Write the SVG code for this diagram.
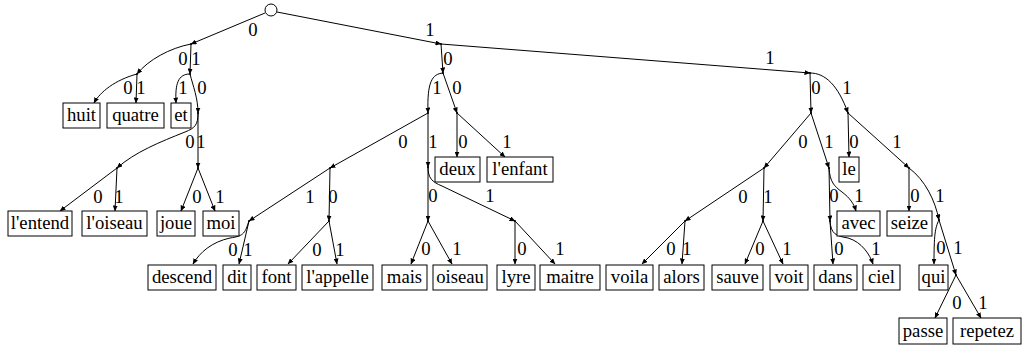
<svg xmlns="http://www.w3.org/2000/svg" width="1032" height="347" viewBox="0 0 1032 347">
<style>
.e{fill:none;stroke:#000;stroke-width:1;marker-end:url(#ah)}
.b{fill:#fff;stroke:#000;stroke-width:1}
.t{font-family:"Liberation Serif","Times New Roman",serif;font-size:18.7px;text-anchor:middle;fill:#000}
.p{fill:#000}
</style>
<defs>
<marker id="ah" markerUnits="userSpaceOnUse" markerWidth="6" markerHeight="5" refX="5.5" refY="2.5" orient="auto">
<path d="M0,0 L6,2.5 L0,5 z" fill="#000"/>
</marker>
</defs>
<rect width="1032" height="347" fill="#fff"/>
<g id="edges">
<path class="e" d="M265,13 L191,44"/>
<path class="e" d="M277,12 L441,44"/>
<path class="e" d="M191,44 C170,48 148,60 137,74"/>
<path class="e" d="M191,44 L190,74"/>
<path class="e" d="M137,74 C115,80 100,92 94,103"/>
<path class="e" d="M137,74 L136,103"/>
<path class="e" d="M190,74 C178,74 175,84 176,103"/>
<path class="e" d="M190,74 C193,86 198,98 198,113"/>
<path class="e" d="M198,113 C198,125 195,128 185,132 C160,142 135,152 117,168"/>
<path class="e" d="M198,113 L198,168"/>
<path class="e" d="M117,168 L60,211"/>
<path class="e" d="M117,168 L115,211"/>
<path class="e" d="M198,168 L181,211"/>
<path class="e" d="M198,168 L215,211"/>
<path class="e" d="M441,44 L443,73"/>
<path class="e" d="M441,44 L810,73"/>
<path class="e" d="M443,73 C432,74 427,82 428,113"/>
<path class="e" d="M443,73 L457,113"/>
<path class="e" d="M457,113 L457,157"/>
<path class="e" d="M457,113 L505,157"/>
<path class="e" d="M428,113 L330,168"/>
<path class="e" d="M428,113 L428,167"/>
<path class="e" d="M330,168 L249,221"/>
<path class="e" d="M330,168 L329,221"/>
<path class="e" d="M428,167 L428,221"/>
<path class="e" d="M428,167 C428,178 432,182 442,186 L515,221"/>
<path class="e" d="M249,221 C245,232 245,236 230,238 C212,242 200,252 193,264"/>
<path class="e" d="M249,221 L239,264"/>
<path class="e" d="M329,221 L288,264"/>
<path class="e" d="M329,221 L337,264"/>
<path class="e" d="M428,221 L411,264"/>
<path class="e" d="M428,221 L452,264"/>
<path class="e" d="M515,221 L515,264"/>
<path class="e" d="M515,221 L555,264"/>
<path class="e" d="M810,73 L811,113"/>
<path class="e" d="M810,73 C825,73 838,85 848,113"/>
<path class="e" d="M811,113 L764,168"/>
<path class="e" d="M811,113 L829,168"/>
<path class="e" d="M848,113 L849,157"/>
<path class="e" d="M848,113 L909,168"/>
<path class="e" d="M829,168 L830,221"/>
<path class="e" d="M829,168 C830,182 834,186 842,192 C850,198 854,204 856,211"/>
<path class="e" d="M909,168 L909,211"/>
<path class="e" d="M909,168 C925,180 935,200 939,220"/>
<path class="e" d="M764,168 L685,221"/>
<path class="e" d="M764,168 L763,221"/>
<path class="e" d="M830,221 L833,264"/>
<path class="e" d="M830,221 C831,234 836,236 848,238 C862,242 870,255 873,264"/>
<path class="e" d="M685,221 L642,264"/>
<path class="e" d="M685,221 L682,264"/>
<path class="e" d="M763,221 L745,264"/>
<path class="e" d="M763,221 L783,264"/>
<path class="e" d="M939,220 C935,228 934,235 934,264"/>
<path class="e" d="M939,220 L956,275"/>
<path class="e" d="M956,275 L935,318"/>
<path class="e" d="M956,275 L981,318"/>
</g>
<g id="edge-labels" class="t">
<text x="253" y="36">0</text>
<text x="430" y="36">1</text>
<text x="183" y="65">0</text>
<text x="196" y="65">1</text>
<text x="128" y="94">0</text>
<text x="141" y="94">1</text>
<text x="183" y="94">1</text>
<text x="202" y="94">0</text>
<text x="190" y="148">0</text>
<text x="201" y="148">1</text>
<text x="98" y="203">0</text>
<text x="119" y="203">1</text>
<text x="197" y="203">0</text>
<text x="220" y="203">1</text>
<text x="448" y="65">0</text>
<text x="770" y="64">1</text>
<text x="437" y="94">1</text>
<text x="457" y="94">0</text>
<text x="463" y="148">0</text>
<text x="507" y="148">1</text>
<text x="403" y="148">0</text>
<text x="433" y="148">1</text>
<text x="310" y="203">1</text>
<text x="333" y="203">0</text>
<text x="433" y="202">0</text>
<text x="490" y="202">1</text>
<text x="233" y="256">0</text>
<text x="248" y="256">1</text>
<text x="317" y="256">0</text>
<text x="340" y="256">1</text>
<text x="426" y="255">0</text>
<text x="457" y="255">1</text>
<text x="522" y="255">0</text>
<text x="560" y="255">1</text>
<text x="816" y="94">0</text>
<text x="847" y="94">1</text>
<text x="803" y="148">0</text>
<text x="829" y="148">1</text>
<text x="854" y="148">0</text>
<text x="897" y="148">1</text>
<text x="834" y="202">0</text>
<text x="859" y="202">1</text>
<text x="915" y="202">0</text>
<text x="940" y="202">1</text>
<text x="743" y="203">0</text>
<text x="768" y="203">1</text>
<text x="839" y="255">0</text>
<text x="876" y="255">1</text>
<text x="671" y="255">0</text>
<text x="687" y="255">1</text>
<text x="760" y="255">0</text>
<text x="787" y="255">1</text>
<text x="941" y="254">0</text>
<text x="958" y="254">1</text>
<text x="957" y="309">0</text>
<text x="983" y="309">1</text>
</g>
<g id="root"><circle cx="271" cy="10" r="6" fill="#fff" stroke="#000"/></g>
<g id="points" class="p">
<circle id="nA" cx="191" cy="44" r="1"/>
<circle id="nB" cx="441" cy="44" r="1"/>
<circle id="nC" cx="137" cy="74" r="1"/>
<circle id="nD" cx="190" cy="74" r="1"/>
<circle id="nH" cx="443" cy="73" r="1"/>
<circle id="nI" cx="810" cy="73" r="1"/>
<circle id="nE" cx="198" cy="113" r="1"/>
<circle id="nJ" cx="428" cy="113" r="1"/>
<circle id="nK" cx="457" cy="113" r="1"/>
<circle id="nS" cx="811" cy="113" r="1"/>
<circle id="nT" cx="848" cy="113" r="1"/>
<circle id="nF" cx="117" cy="168" r="1"/>
<circle id="nG" cx="198" cy="168" r="1"/>
<circle id="nM" cx="330" cy="168" r="1"/>
<circle id="nN" cx="428" cy="167" r="1"/>
<circle id="nU" cx="764" cy="168" r="1"/>
<circle id="nV" cx="829" cy="168" r="1"/>
<circle id="nW" cx="909" cy="168" r="1"/>
<circle id="nQ" cx="249" cy="221" r="1"/>
<circle id="nR" cx="329" cy="221" r="1"/>
<circle id="nO" cx="428" cy="221" r="1"/>
<circle id="nP" cx="515" cy="221" r="1"/>
<circle id="nZ" cx="685" cy="221" r="1"/>
<circle id="nAA" cx="763" cy="221" r="1"/>
<circle id="nX" cx="830" cy="221" r="1"/>
<circle id="nY" cx="939" cy="220" r="1"/>
<circle id="nAB" cx="956" cy="275" r="1"/>
</g>
<g id="huit"><rect class="b" x="63" y="103" width="37" height="25"/><text class="t" x="81.5" y="121">huit</text></g>
<g id="quatre"><rect class="b" x="107" y="103" width="57" height="25"/><text class="t" x="135.5" y="121">quatre</text></g>
<g id="et"><rect class="b" x="171" y="103" width="20" height="25"/><text class="t" x="181" y="121">et</text></g>
<g id="deux"><rect class="b" x="435" y="157" width="45" height="25"/><text class="t" x="457.5" y="175">deux</text></g>
<g id="lenfant"><rect class="b" x="487" y="157" width="66" height="25"/><text class="t" x="520" y="175">l'enfant</text></g>
<g id="le"><rect class="b" x="839" y="157" width="20" height="25"/><text class="t" x="849" y="175">le</text></g>
<g id="lentend"><rect class="b" x="8" y="211" width="64" height="25"/><text class="t" x="40" y="229">l'entend</text></g>
<g id="loiseau"><rect class="b" x="82" y="211" width="65" height="25"/><text class="t" x="114.5" y="229">l'oiseau</text></g>
<g id="joue"><rect class="b" x="157" y="211" width="38" height="25"/><text class="t" x="176" y="229">joue</text></g>
<g id="moi"><rect class="b" x="203" y="211" width="36" height="25"/><text class="t" x="221" y="229">moi</text></g>
<g id="avec"><rect class="b" x="837" y="211" width="43" height="25"/><text class="t" x="858.5" y="229">avec</text></g>
<g id="seize"><rect class="b" x="887" y="211" width="45" height="25"/><text class="t" x="909.5" y="229">seize</text></g>
<g id="descend"><rect class="b" x="148" y="265" width="68" height="25"/><text class="t" x="182" y="283">descend</text></g>
<g id="dit"><rect class="b" x="223" y="265" width="28" height="25"/><text class="t" x="237" y="283">dit</text></g>
<g id="font"><rect class="b" x="257" y="265" width="39" height="25"/><text class="t" x="276.5" y="283">font</text></g>
<g id="lappelle"><rect class="b" x="302" y="265" width="71" height="25"/><text class="t" x="337.5" y="283">l'appelle</text></g>
<g id="mais"><rect class="b" x="382" y="265" width="45" height="25"/><text class="t" x="404.5" y="283">mais</text></g>
<g id="oiseau"><rect class="b" x="433" y="265" width="54" height="25"/><text class="t" x="460" y="283">oiseau</text></g>
<g id="lyre"><rect class="b" x="497" y="265" width="38" height="25"/><text class="t" x="516" y="283">lyre</text></g>
<g id="maitre"><rect class="b" x="540" y="265" width="60" height="25"/><text class="t" x="570" y="283">maitre</text></g>
<g id="voila"><rect class="b" x="606" y="265" width="47" height="25"/><text class="t" x="629.5" y="283">voila</text></g>
<g id="alors"><rect class="b" x="659" y="265" width="45" height="25"/><text class="t" x="681.5" y="283">alors</text></g>
<g id="sauve"><rect class="b" x="712" y="265" width="51" height="25"/><text class="t" x="737.5" y="283">sauve</text></g>
<g id="voit"><rect class="b" x="770" y="265" width="38" height="25"/><text class="t" x="789" y="283">voit</text></g>
<g id="dans"><rect class="b" x="814" y="265" width="43" height="25"/><text class="t" x="835.5" y="283">dans</text></g>
<g id="ciel"><rect class="b" x="863" y="265" width="37" height="25"/><text class="t" x="881.5" y="283">ciel</text></g>
<g id="qui"><rect class="b" x="919" y="265" width="29" height="25"/><text class="t" x="933.5" y="283">qui</text></g>
<g id="passe"><rect class="b" x="899" y="318" width="48" height="26"/><text class="t" x="923" y="337">passe</text></g>
<g id="repetez"><rect class="b" x="953" y="318" width="68" height="26"/><text class="t" x="987" y="337">repetez</text></g>
</svg>
